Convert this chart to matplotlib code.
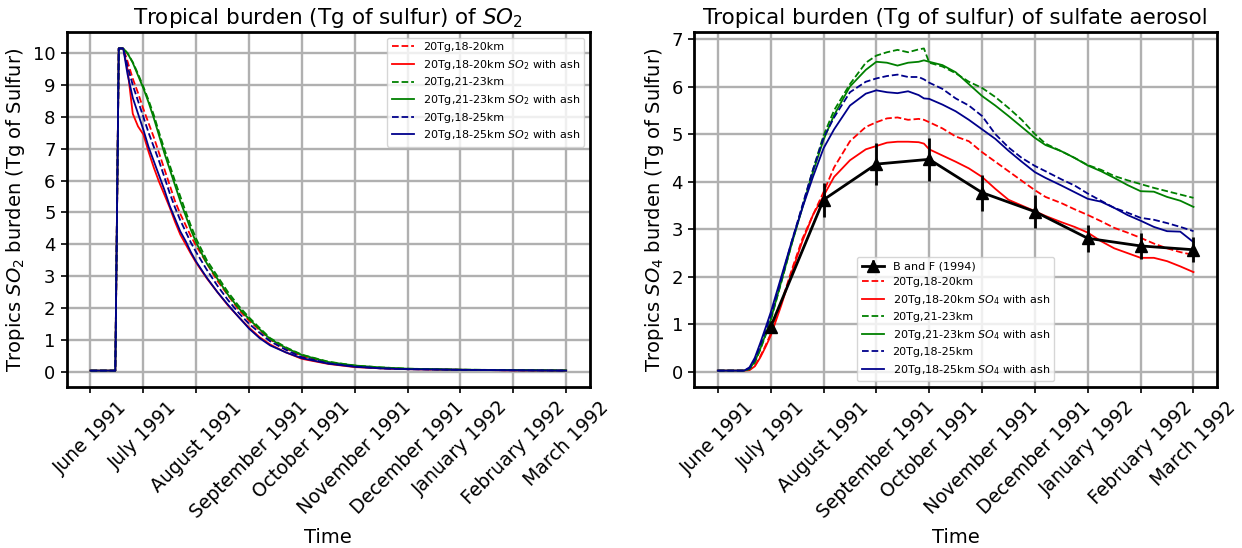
import matplotlib
matplotlib.use("Agg")
import matplotlib.pyplot as plt

# ---- month axis -----------------------------------------------------------
month_labels = ['June 1991', 'July 1991', 'August 1991', 'September 1991',
                'October 1991', 'November 1991', 'December 1991',
                'January 1992', 'February 1992', 'March 1992']

# ---- SO2 burden (Tg S), time in months since 1 June 1991 -------------------
so2_t = [0, 0.47, 0.535, 0.62, 0.7, 0.8, 0.9, 1.0, 1.1, 1.2, 1.3, 1.4, 1.5,
         1.6, 1.7, 1.8, 1.9, 2.0, 2.2, 2.4, 2.6, 2.8, 3.0, 3.2, 3.4, 3.7, 4.0,
         4.5, 5.0, 5.5, 6.0, 7.0, 8.0, 9.0]
so2_r20 = [0.03, 0.03, 10.15, 10.15, 9.75, 9.2, 8.75, 8.25, 7.8, 7.35, 6.85,
           6.35, 5.85, 5.35, 4.95, 4.6, 4.25, 3.95, 3.4, 2.85, 2.4, 1.95, 1.6,
           1.3, 1.0, 0.72, 0.48, 0.28, 0.17, 0.11, 0.08, 0.055, 0.04, 0.03]
so2_r20_ash = [0.03, 0.03, 10.15, 10.15, 9.5, 8.1, 7.7, 7.45, 6.9, 6.4, 5.95,
               5.55, 5.15, 4.7, 4.3, 4.0, 3.7, 3.42, 2.93, 2.5, 2.08, 1.72,
               1.38, 1.08, 0.85, 0.6, 0.4, 0.24, 0.14, 0.1, 0.075, 0.055, 0.04,
               0.03]
so2_g23 = [0.03, 0.03, 10.15, 10.15, 10.0, 9.72, 9.35, 8.95, 8.52, 8.05, 7.5,
           6.98, 6.48, 5.98, 5.5, 5.03, 4.58, 4.17, 3.5, 3.0, 2.5, 2.07, 1.7,
           1.37, 1.05, 0.76, 0.53, 0.31, 0.19, 0.13, 0.09, 0.06, 0.045, 0.035]
so2_g23_ash = [0.03, 0.03, 10.15, 10.15, 10.0, 9.7, 9.3, 8.9, 8.45, 7.95, 7.4,
               6.85, 6.35, 5.85, 5.35, 4.9, 4.45, 4.05, 3.4, 2.92, 2.42, 2.0,
               1.65, 1.33, 1.02, 0.74, 0.52, 0.3, 0.19, 0.13, 0.09, 0.06, 0.045,
               0.035]
so2_b25 = [0.03, 0.03, 10.15, 10.15, 9.6, 9.0, 8.5, 8.0, 7.5, 7.05, 6.6, 6.1,
           5.6, 5.15, 4.75, 4.4, 4.05, 3.75, 3.2, 2.7, 2.25, 1.85, 1.5, 1.22,
           0.95, 0.68, 0.45, 0.26, 0.16, 0.1, 0.075, 0.055, 0.04, 0.03]
so2_b25_ash = [0.03, 0.03, 10.15, 10.15, 9.35, 8.6, 8.1, 7.6, 7.05, 6.6, 6.15,
               5.7, 5.2, 4.8, 4.4, 4.1, 3.75, 3.45, 2.95, 2.5, 2.1, 1.72, 1.35,
               1.05, 0.82, 0.6, 0.42, 0.25, 0.15, 0.1, 0.075, 0.055, 0.04, 0.03]

# ---- sulfate burden (Tg S) ---------------------------------------------------
so4_t = [0, 0.5, 0.6, 0.7, 0.8, 0.9, 1.0, 1.2, 1.4, 1.6, 1.8, 2.0, 2.2, 2.5,
         2.8, 3.0, 3.2, 3.4, 3.6, 3.8, 3.9, 4.0, 4.25, 4.5, 4.75, 5.0, 5.25,
         5.5, 5.75, 6.0, 6.2, 6.5, 6.75, 7.0, 7.25, 7.5, 7.75, 8.0, 8.25, 8.5,
         8.75, 9.0]
so4_r20 = [0.03, 0.03, 0.05, 0.13, 0.32, 0.55, 0.8, 1.45, 2.15, 2.8, 3.3, 3.78,
           4.3, 4.85, 5.15, 5.25, 5.33, 5.35, 5.3, 5.32, 5.3, 5.25, 5.12, 4.95,
           4.85, 4.62, 4.42, 4.22, 4.02, 3.82, 3.68, 3.55, 3.42, 3.3, 3.17,
           3.03, 2.93, 2.82, 2.7, 2.6, 2.52, 2.46]
so4_r20_ash = [0.03, 0.03, 0.04, 0.12, 0.3, 0.52, 0.76, 1.4, 2.1, 2.75, 3.3,
               3.7, 4.1, 4.45, 4.68, 4.75, 4.82, 4.84, 4.84, 4.83, 4.8, 4.68,
               4.55, 4.42, 4.28, 4.1, 3.85, 3.62, 3.5, 3.38, 3.28, 3.15, 3.05,
               2.93, 2.75, 2.6, 2.5, 2.4, 2.4, 2.33, 2.22, 2.1]
so4_g23 = [0.03, 0.03, 0.06, 0.2, 0.46, 0.76, 1.08, 1.88, 2.7, 3.48, 4.25, 4.97,
           5.5, 6.05, 6.5, 6.65, 6.72, 6.77, 6.72, 6.78, 6.8, 6.5, 6.42, 6.28,
           6.1, 5.97, 5.78, 5.55, 5.3, 5.0, 4.8, 4.64, 4.5, 4.35, 4.25, 4.12,
           4.03, 3.95, 3.87, 3.8, 3.73, 3.66]
so4_g23_ash = [0.03, 0.03, 0.07, 0.22, 0.48, 0.78, 1.1, 1.9, 2.7, 3.45, 4.2,
               4.88, 5.4, 6.0, 6.35, 6.52, 6.5, 6.44, 6.5, 6.52, 6.55, 6.52,
               6.45, 6.3, 6.05, 5.8, 5.6, 5.38, 5.15, 4.92, 4.77, 4.64, 4.5,
               4.34, 4.22, 4.08, 3.93, 3.8, 3.79, 3.68, 3.6, 3.47]
so4_b25 = [0.03, 0.03, 0.08, 0.26, 0.55, 0.86, 1.18, 1.95, 2.75, 3.5, 4.25,
           4.92, 5.35, 5.88, 6.1, 6.17, 6.22, 6.25, 6.2, 6.2, 6.15, 6.08, 5.95,
           5.75, 5.6, 5.38, 5.0, 4.72, 4.5, 4.33, 4.22, 4.05, 3.92, 3.75, 3.6,
           3.45, 3.35, 3.24, 3.2, 3.13, 3.05, 2.96]
so4_b25_ash = [0.03, 0.03, 0.1, 0.3, 0.6, 0.92, 1.25, 2.0, 2.75, 3.45, 4.1,
               4.7, 5.1, 5.6, 5.85, 5.92, 5.88, 5.86, 5.9, 5.82, 5.75, 5.74,
               5.62, 5.48, 5.3, 5.1, 4.9, 4.65, 4.42, 4.2, 4.08, 3.92, 3.78,
               3.64, 3.58, 3.45, 3.3, 3.18, 3.05, 2.96, 2.95, 2.73]

# ---- Bluth and Fromm observations (monthly) --------------------------------
bf_t = [1, 2, 3, 4, 5, 6, 7, 8, 9]
bf_val = [0.95, 3.62, 4.37, 4.47, 3.77, 3.37, 2.81, 2.65, 2.57]
bf_err = [0.1, 0.36, 0.44, 0.45, 0.38, 0.34, 0.28, 0.27, 0.26]

RED, GREEN, BLUE = 'red', 'green', 'darkblue'
LW = 1.3

fig = plt.figure(figsize=(12.42, 5.48), dpi=100)
ax1 = fig.add_axes([0.0537, 0.2943, 0.4213, 0.6467])
ax2 = fig.add_axes([0.5588, 0.2943, 0.4213, 0.6467])


def style_axis(ax, yticks):
    ax.set_xticks(range(len(month_labels)))
    ax.set_xticklabels(month_labels, rotation=45, fontsize=13.5)
    ax.set_yticks(yticks)
    ax.tick_params(axis='y', labelsize=13)
    ax.tick_params(length=4.5, width=1.2)
    ax.grid(True, color='#b0b0b0', lw=1.7)
    ax.set_axisbelow(True)
    for sp in ax.spines.values():
        sp.set_linewidth(2.0)
    ax.set_xlabel('Time', fontsize=14)


# SO2 panel
ax1.plot(so2_t, so2_r20, '--', color=RED, lw=LW, label='20Tg,18-20km')
ax1.plot(so2_t, so2_r20_ash, '-', color=RED, lw=LW,
         label='20Tg,18-20km $SO_2$ with ash')
ax1.plot(so2_t, so2_g23, '--', color=GREEN, lw=LW, label='20Tg,21-23km')
ax1.plot(so2_t, so2_g23_ash, '-', color=GREEN, lw=LW,
         label='20Tg,21-23km $SO_2$ with ash')
ax1.plot(so2_t, so2_b25, '--', color=BLUE, lw=LW, label='20Tg,18-25km')
ax1.plot(so2_t, so2_b25_ash, '-', color=BLUE, lw=LW,
         label='20Tg,18-25km $SO_2$ with ash')
style_axis(ax1, range(0, 11))
ax1.set_title('Tropical burden (Tg of sulfur) of $SO_2$', fontsize=15.5)
ax1.set_ylabel('Tropics $SO_2$ burden (Tg of Sulfur)', fontsize=14)
ax1.legend(loc='upper right', fontsize=8)

# SO4 panel
ax2.plot(so4_t, so4_r20, '--', color=RED, lw=LW, label='20Tg,18-20km')
ax2.plot(so4_t, so4_r20_ash, '-', color=RED, lw=LW,
         label='20Tg,18-20km $SO_4$ with ash')
ax2.plot(so4_t, so4_g23, '--', color=GREEN, lw=LW, label='20Tg,21-23km')
ax2.plot(so4_t, so4_g23_ash, '-', color=GREEN, lw=LW,
         label='20Tg,21-23km $SO_4$ with ash')
ax2.plot(so4_t, so4_b25, '--', color=BLUE, lw=LW, label='20Tg,18-25km')
ax2.plot(so4_t, so4_b25_ash, '-', color=BLUE, lw=LW,
         label='20Tg,18-25km $SO_4$ with ash')
ax2.errorbar(bf_t, bf_val, yerr=bf_err, color='black', marker='^',
             ms=9, lw=2, elinewidth=2, capsize=0, zorder=3,
             label='B and F (1994)')
style_axis(ax2, range(0, 8))
ax2.set_title('Tropical burden (Tg of sulfur) of sulfate aerosol', fontsize=15.5)
ax2.set_ylabel('Tropics $SO_4$ burden (Tg of Sulfur)', fontsize=14)
handles, labels = ax2.get_legend_handles_labels()
order = [labels.index('B and F (1994)')] + \
    [i for i, lab in enumerate(labels) if lab != 'B and F (1994)']
ax2.legend([handles[i] for i in order], [labels[i] for i in order],
           loc='lower center', fontsize=8)

fig.savefig('out.png', dpi=100)
